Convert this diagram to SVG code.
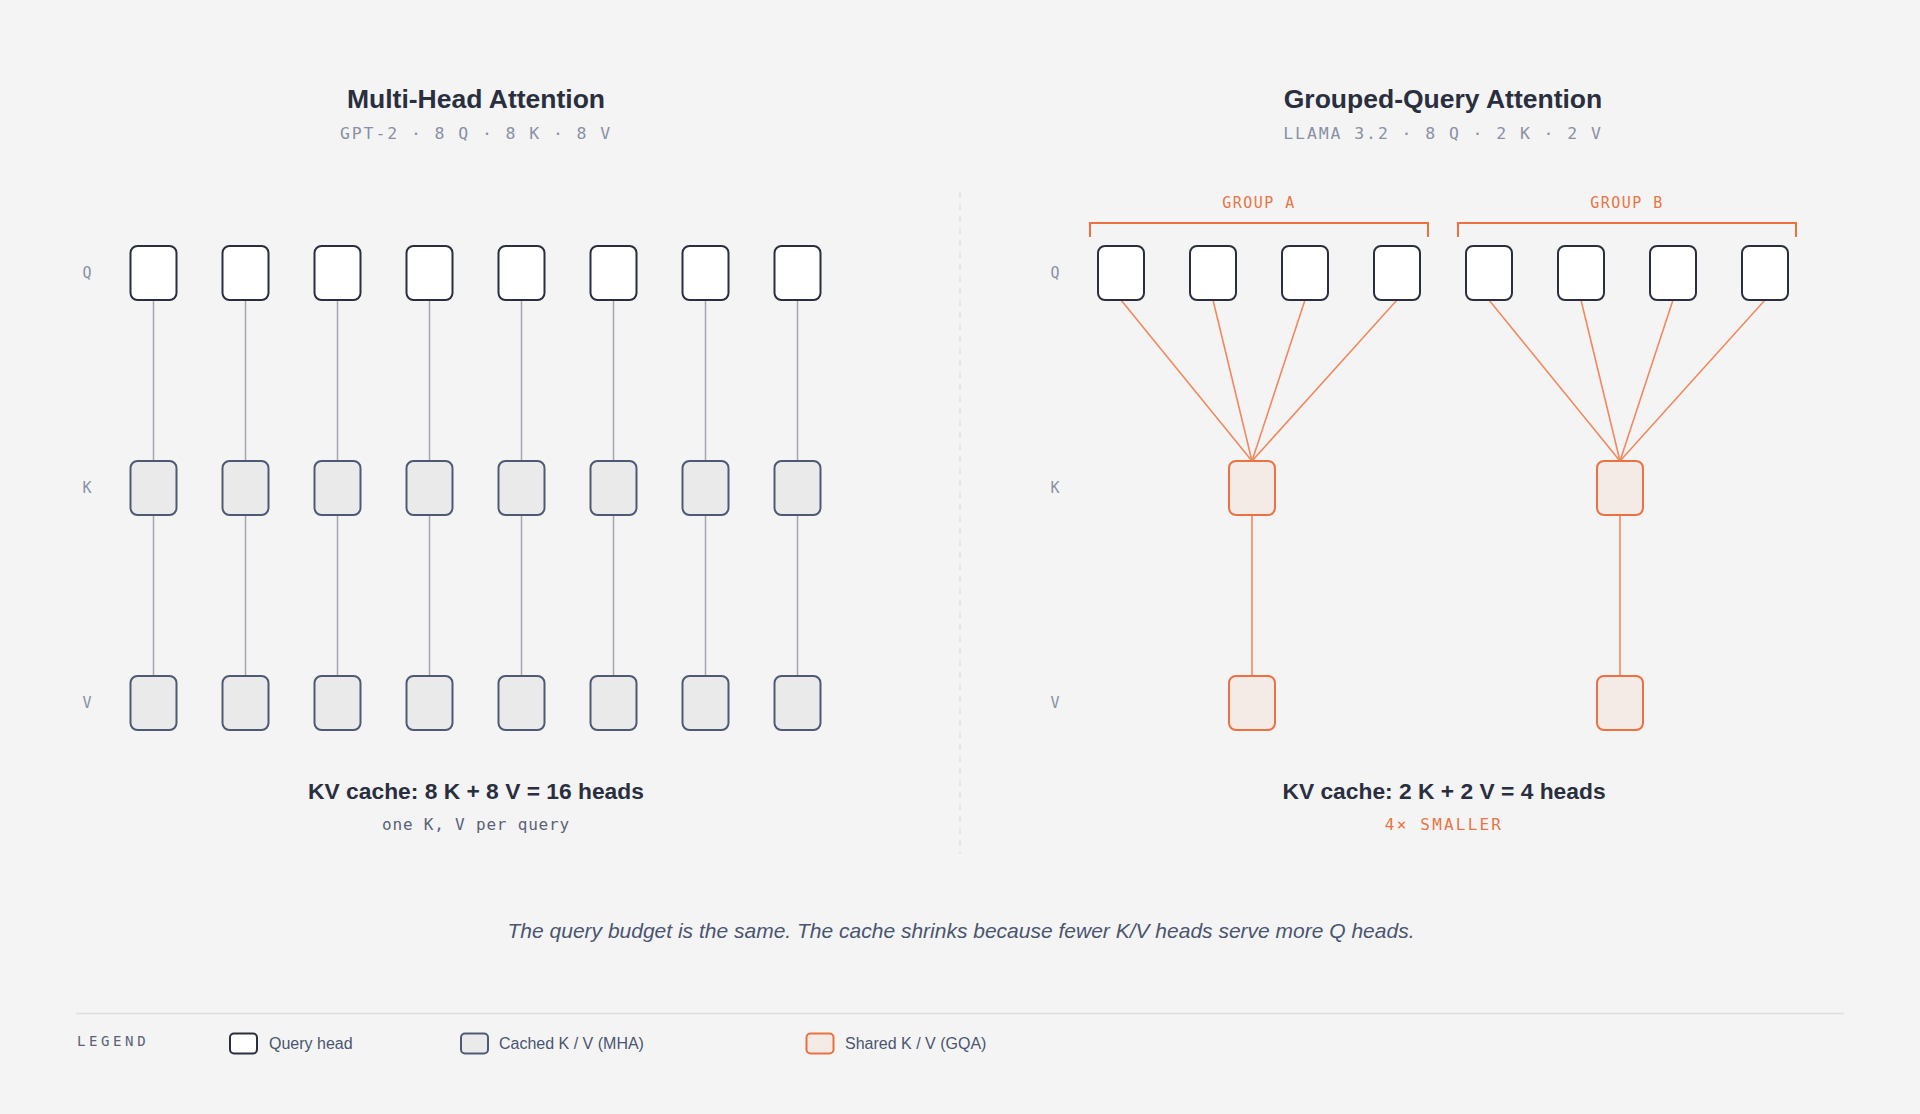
<svg xmlns="http://www.w3.org/2000/svg" width="1920" height="1114" viewBox="0 0 1920 1114">
<defs>
<style>
.bg{fill:#f4f4f4}
.title{font-family:"Liberation Sans",Arial,sans-serif;font-weight:bold;font-size:26.5px;fill:#2a2f3f;text-anchor:middle}
.sub{font-family:"DejaVu Sans Mono",monospace;font-size:16.5px;letter-spacing:1.9px;fill:#8a90a5;text-anchor:middle}
.row{font-family:"DejaVu Sans Mono",monospace;font-size:15px;fill:#8a90a5;text-anchor:middle}
.grp{font-family:"DejaVu Sans Mono",monospace;font-size:15px;letter-spacing:1.5px;fill:#ea7443;text-anchor:middle}
.sum{font-family:"Liberation Sans",Arial,sans-serif;font-weight:bold;font-size:22.8px;fill:#2a2f3f;text-anchor:middle}
.note{font-family:"DejaVu Sans Mono",monospace;font-size:16px;letter-spacing:0.8px;fill:#5a6279;text-anchor:middle}
.noteo{font-family:"DejaVu Sans Mono",monospace;font-size:16px;letter-spacing:2.2px;fill:#ea7443;text-anchor:middle}
.cap{font-family:"Liberation Sans",Arial,sans-serif;font-style:italic;font-size:21px;fill:#4a5570;text-anchor:middle}
.leg{font-family:"DejaVu Sans Mono",monospace;font-size:14px;letter-spacing:3.6px;fill:#5a6279}
.legt{font-family:"Liberation Sans",Arial,sans-serif;font-size:16px;fill:#4a5570}
.q{fill:#ffffff;stroke:#2a2f3f;stroke-width:2}
.kv{fill:#eaeaea;stroke:#4e5a73;stroke-width:2}
.sh{fill:#f5ebe6;stroke:#ec7040;stroke-width:2}
.gl{stroke:#a2a7b3;stroke-width:1.5;fill:none}
.ol{stroke:#f08a5e;stroke-width:1.6;fill:none}
.br{stroke:#ec7040;stroke-width:2;fill:none}
</style>
</defs>
<rect class="bg" x="0" y="0" width="1920" height="1114"/>

<!-- titles -->
<text class="title" x="476" y="107.5">Multi-Head Attention</text>
<text class="sub" x="476" y="138.5">GPT-2 · 8 Q · 8 K · 8 V</text>
<text class="title" x="1443" y="107.5">Grouped-Query Attention</text>
<text class="sub" x="1443" y="138.5">LLAMA 3.2 · 8 Q · 2 K · 2 V</text>

<!-- divider -->
<line x1="960" y1="192" x2="960" y2="854" stroke="#e2e2e2" stroke-width="1.5" stroke-dasharray="6 6"/>

<!-- row labels -->
<text class="row" x="87" y="277.5">Q</text>
<text class="row" x="87" y="492.5">K</text>
<text class="row" x="87" y="707.5">V</text>
<text class="row" x="1055" y="277.5">Q</text>
<text class="row" x="1055" y="492.5">K</text>
<text class="row" x="1055" y="707.5">V</text>

<!-- group brackets -->
<g id="group-a">
<path class="br" d="M1090,237 V223 H1428 V237"/>
<text class="grp" x="1259" y="207.5">GROUP A</text>
</g>
<g id="group-b">
<path class="br" d="M1458,237 V223 H1796 V237"/>
<text class="grp" x="1627" y="207.5">GROUP B</text>
</g>

<!-- connectors -->
<g id="connectors">
<line class="gl" x1="153.5" y1="300" x2="153.5" y2="461"/><line class="gl" x1="153.5" y1="515" x2="153.5" y2="676"/>
<line class="gl" x1="245.5" y1="300" x2="245.5" y2="461"/><line class="gl" x1="245.5" y1="515" x2="245.5" y2="676"/>
<line class="gl" x1="337.5" y1="300" x2="337.5" y2="461"/><line class="gl" x1="337.5" y1="515" x2="337.5" y2="676"/>
<line class="gl" x1="429.5" y1="300" x2="429.5" y2="461"/><line class="gl" x1="429.5" y1="515" x2="429.5" y2="676"/>
<line class="gl" x1="521.5" y1="300" x2="521.5" y2="461"/><line class="gl" x1="521.5" y1="515" x2="521.5" y2="676"/>
<line class="gl" x1="613.5" y1="300" x2="613.5" y2="461"/><line class="gl" x1="613.5" y1="515" x2="613.5" y2="676"/>
<line class="gl" x1="705.5" y1="300" x2="705.5" y2="461"/><line class="gl" x1="705.5" y1="515" x2="705.5" y2="676"/>
<line class="gl" x1="797.5" y1="300" x2="797.5" y2="461"/><line class="gl" x1="797.5" y1="515" x2="797.5" y2="676"/>

<line class="ol" x1="1121" y1="300" x2="1252" y2="461"/>
<line class="ol" x1="1213" y1="300" x2="1252" y2="461"/>
<line class="ol" x1="1305" y1="300" x2="1252" y2="461"/>
<line class="ol" x1="1397" y1="300" x2="1252" y2="461"/>
<line class="ol" x1="1489" y1="300" x2="1620" y2="461"/>
<line class="ol" x1="1581" y1="300" x2="1620" y2="461"/>
<line class="ol" x1="1673" y1="300" x2="1620" y2="461"/>
<line class="ol" x1="1765" y1="300" x2="1620" y2="461"/>
<line class="ol" x1="1252" y1="515" x2="1252" y2="676"/>
<line class="ol" x1="1620" y1="515" x2="1620" y2="676"/>
</g>

<!-- MHA nodes -->
<g id="mha-q1"><rect class="q" x="130.5" y="246" width="46" height="54" rx="7"/></g>
<g id="mha-q2"><rect class="q" x="222.5" y="246" width="46" height="54" rx="7"/></g>
<g id="mha-q3"><rect class="q" x="314.5" y="246" width="46" height="54" rx="7"/></g>
<g id="mha-q4"><rect class="q" x="406.5" y="246" width="46" height="54" rx="7"/></g>
<g id="mha-q5"><rect class="q" x="498.5" y="246" width="46" height="54" rx="7"/></g>
<g id="mha-q6"><rect class="q" x="590.5" y="246" width="46" height="54" rx="7"/></g>
<g id="mha-q7"><rect class="q" x="682.5" y="246" width="46" height="54" rx="7"/></g>
<g id="mha-q8"><rect class="q" x="774.5" y="246" width="46" height="54" rx="7"/></g>

<g id="mha-k1"><rect class="kv" x="130.5" y="461" width="46" height="54" rx="7"/></g>
<g id="mha-k2"><rect class="kv" x="222.5" y="461" width="46" height="54" rx="7"/></g>
<g id="mha-k3"><rect class="kv" x="314.5" y="461" width="46" height="54" rx="7"/></g>
<g id="mha-k4"><rect class="kv" x="406.5" y="461" width="46" height="54" rx="7"/></g>
<g id="mha-k5"><rect class="kv" x="498.5" y="461" width="46" height="54" rx="7"/></g>
<g id="mha-k6"><rect class="kv" x="590.5" y="461" width="46" height="54" rx="7"/></g>
<g id="mha-k7"><rect class="kv" x="682.5" y="461" width="46" height="54" rx="7"/></g>
<g id="mha-k8"><rect class="kv" x="774.5" y="461" width="46" height="54" rx="7"/></g>

<g id="mha-v1"><rect class="kv" x="130.5" y="676" width="46" height="54" rx="7"/></g>
<g id="mha-v2"><rect class="kv" x="222.5" y="676" width="46" height="54" rx="7"/></g>
<g id="mha-v3"><rect class="kv" x="314.5" y="676" width="46" height="54" rx="7"/></g>
<g id="mha-v4"><rect class="kv" x="406.5" y="676" width="46" height="54" rx="7"/></g>
<g id="mha-v5"><rect class="kv" x="498.5" y="676" width="46" height="54" rx="7"/></g>
<g id="mha-v6"><rect class="kv" x="590.5" y="676" width="46" height="54" rx="7"/></g>
<g id="mha-v7"><rect class="kv" x="682.5" y="676" width="46" height="54" rx="7"/></g>
<g id="mha-v8"><rect class="kv" x="774.5" y="676" width="46" height="54" rx="7"/></g>

<!-- GQA nodes -->
<g id="gqa-q1"><rect class="q" x="1098" y="246" width="46" height="54" rx="7"/></g>
<g id="gqa-q2"><rect class="q" x="1190" y="246" width="46" height="54" rx="7"/></g>
<g id="gqa-q3"><rect class="q" x="1282" y="246" width="46" height="54" rx="7"/></g>
<g id="gqa-q4"><rect class="q" x="1374" y="246" width="46" height="54" rx="7"/></g>
<g id="gqa-q5"><rect class="q" x="1466" y="246" width="46" height="54" rx="7"/></g>
<g id="gqa-q6"><rect class="q" x="1558" y="246" width="46" height="54" rx="7"/></g>
<g id="gqa-q7"><rect class="q" x="1650" y="246" width="46" height="54" rx="7"/></g>
<g id="gqa-q8"><rect class="q" x="1742" y="246" width="46" height="54" rx="7"/></g>

<g id="gqa-k1"><rect class="sh" x="1229" y="461" width="46" height="54" rx="7"/></g>
<g id="gqa-k2"><rect class="sh" x="1597" y="461" width="46" height="54" rx="7"/></g>
<g id="gqa-v1"><rect class="sh" x="1229" y="676" width="46" height="54" rx="7"/></g>
<g id="gqa-v2"><rect class="sh" x="1597" y="676" width="46" height="54" rx="7"/></g>

<!-- summaries -->
<text class="sum" x="476" y="799">KV cache: 8 K + 8 V = 16 heads</text>
<text class="note" x="476" y="830">one K, V per query</text>
<text class="sum" x="1444" y="799">KV cache: 2 K + 2 V = 4 heads</text>
<text class="noteo" x="1444" y="830">4× SMALLER</text>

<text class="cap" x="961" y="937.5">The query budget is the same. The cache shrinks because fewer K/V heads serve more Q heads.</text>

<!-- legend -->
<g id="legend">
<line x1="76" y1="1013.5" x2="1844" y2="1013.5" stroke="#dddddd" stroke-width="1.5"/>
<text class="leg" x="77" y="1045.5">LEGEND</text>
<rect class="q" x="230" y="1033.5" width="27" height="20" rx="4"/>
<text class="legt" x="269" y="1049">Query head</text>
<rect class="kv" x="461" y="1033.5" width="27" height="20" rx="4"/>
<text class="legt" x="499" y="1049">Cached K / V (MHA)</text>
<rect class="sh" x="806.5" y="1033.5" width="27" height="20" rx="4"/>
<text class="legt" x="845" y="1049">Shared K / V (GQA)</text>
</g>
</svg>
